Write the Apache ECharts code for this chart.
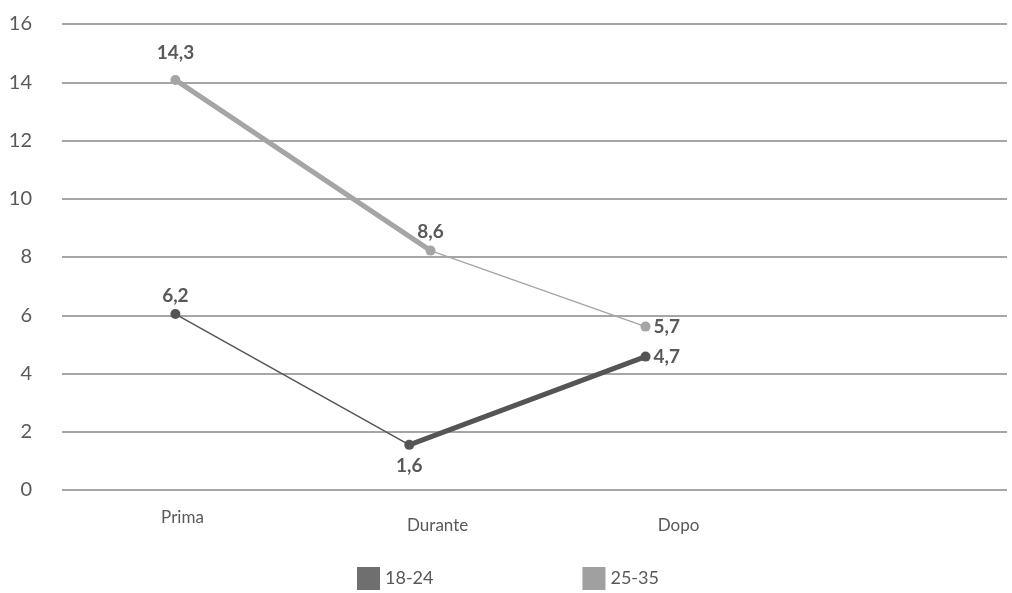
<!DOCTYPE html>
<html>
<head>
<meta charset="utf-8">
<script src="https://cdn.jsdelivr.net/npm/echarts@6/dist/echarts.min.js"></script>
<style>
html,body{margin:0;padding:0;background:#fff;}
#chart{width:1012px;height:593px;}
</style>
</head>
<body>
<div id="chart"></div>
<script>
// ---- data ----
var categories = ['Prima', 'Durante', 'Dopo'];
var categoryPos = [0.51, 1.59, 2.61];          // where the category names sit on the x scale
var seriesNames = ['18-24', '25-35'];
var xPos_18_24 = [0.48, 1.47, 2.47];
var xPos_25_35 = [0.48, 1.56, 2.47];
var values_18_24 = [6.04, 1.55, 4.58];           // plotted positions
var values_25_35 = [14.08, 8.22, 5.61];
var labels_18_24 = ['6,2', '1,6', '4,7'];        // printed data labels
var labels_25_35 = ['14,3', '8,6', '5,7'];
var yTicks = [0, 2, 4, 6, 8, 10, 12, 14, 16];

// ---- styling ----
var FONT = 'Lato';
var TXT = '#595959';
var colors = {'18-24': '#555555', '25-35': '#a5a5a5'};
var legendColors = {'18-24': '#6f6f6f', '25-35': '#a0a0a0'};
var segWidths = {'18-24': [1.5, 5], '25-35': [5, 1.5]};

function pairs(xs, ys) { return xs.map(function (x, i) { return [x, ys[i]]; }); }

function buildSeries(name, xs, ys, labels, labelCfg) {
  var pts = pairs(xs, ys);
  var out = [];
  for (var i = 0; i < pts.length - 1; i++) {
    out.push({
      name: name, type: 'line', data: [pts[i], pts[i + 1]],
      showSymbol: false, symbol: 'none', silent: true,
      lineStyle: {color: colors[name], width: segWidths[name][i], cap: 'round'},
      itemStyle: {color: colors[name]}, z: 2
    });
  }
  out.push({
    name: name, type: 'scatter', symbolSize: 10, z: 3,
    itemStyle: {color: colors[name], opacity: 1},
    data: pts.map(function (p, i) {
      return {value: p, label: Object.assign({
        show: true, formatter: labels[i], color: TXT,
        fontFamily: FONT, fontWeight: 'bold', fontSize: 19
      }, labelCfg[i])};
    })
  });
  return out;
}

var series = []
  .concat(buildSeries('25-35', xPos_25_35, values_25_35, labels_25_35,
    [{position: 'top', distance: 13}, {position: 'top', distance: 4}, {position: 'right', distance: 3}]))
  .concat(buildSeries('18-24', xPos_18_24, values_18_24, labels_18_24,
    [{position: 'top', distance: 4}, {position: 'bottom', distance: 7}, {position: 'right', distance: 3}]));

var chart = echarts.init(document.getElementById('chart'));
chart.setOption({
  animation: false,
  backgroundColor: '#fff',
  grid: {left: 62, right: 5, top: 24, bottom: 103, containLabel: false},
  legend: {
    data: seriesNames.map(function (n) { return {name: n, itemStyle: {color: legendColors[n]}}; }),
    icon: 'rect', itemWidth: 23, itemHeight: 23, itemGap: 149, padding: 0,
    left: 357, top: 567,
    textStyle: {color: TXT, fontFamily: FONT, fontSize: 18, padding: [0, 0, 0, 0]},
    selectedMode: false
  },
  xAxis: {
    type: 'value', min: 0, max: 4,
    axisLine: {show: false}, axisTick: {show: false}, splitLine: {show: false},
    axisLabel: {
      customValues: categoryPos,
      margin: 19,
      color: TXT, fontFamily: FONT, fontSize: 17,
      formatter: function (v) {
        var i = categoryPos.indexOf(v);
        if (i < 0) return '';
        return (i === 0 ? '{a|' : '{b|') + categories[i] + '}';
      },
      rich: {
        a: {color: TXT, fontFamily: FONT, fontSize: 17, lineHeight: 18},
        b: {color: TXT, fontFamily: FONT, fontSize: 17, lineHeight: 34}
      }
    }
  },
  yAxis: {
    type: 'value', min: yTicks[0], max: yTicks[yTicks.length - 1], interval: 2,
    axisLine: {show: false}, axisTick: {show: false},
    splitLine: {show: true, lineStyle: {color: '#a6a6a6', width: 2}},
    axisLabel: {margin: 30, color: TXT, fontFamily: FONT, fontSize: 20}
  },
  series: series
});
</script>
</body>
</html>
